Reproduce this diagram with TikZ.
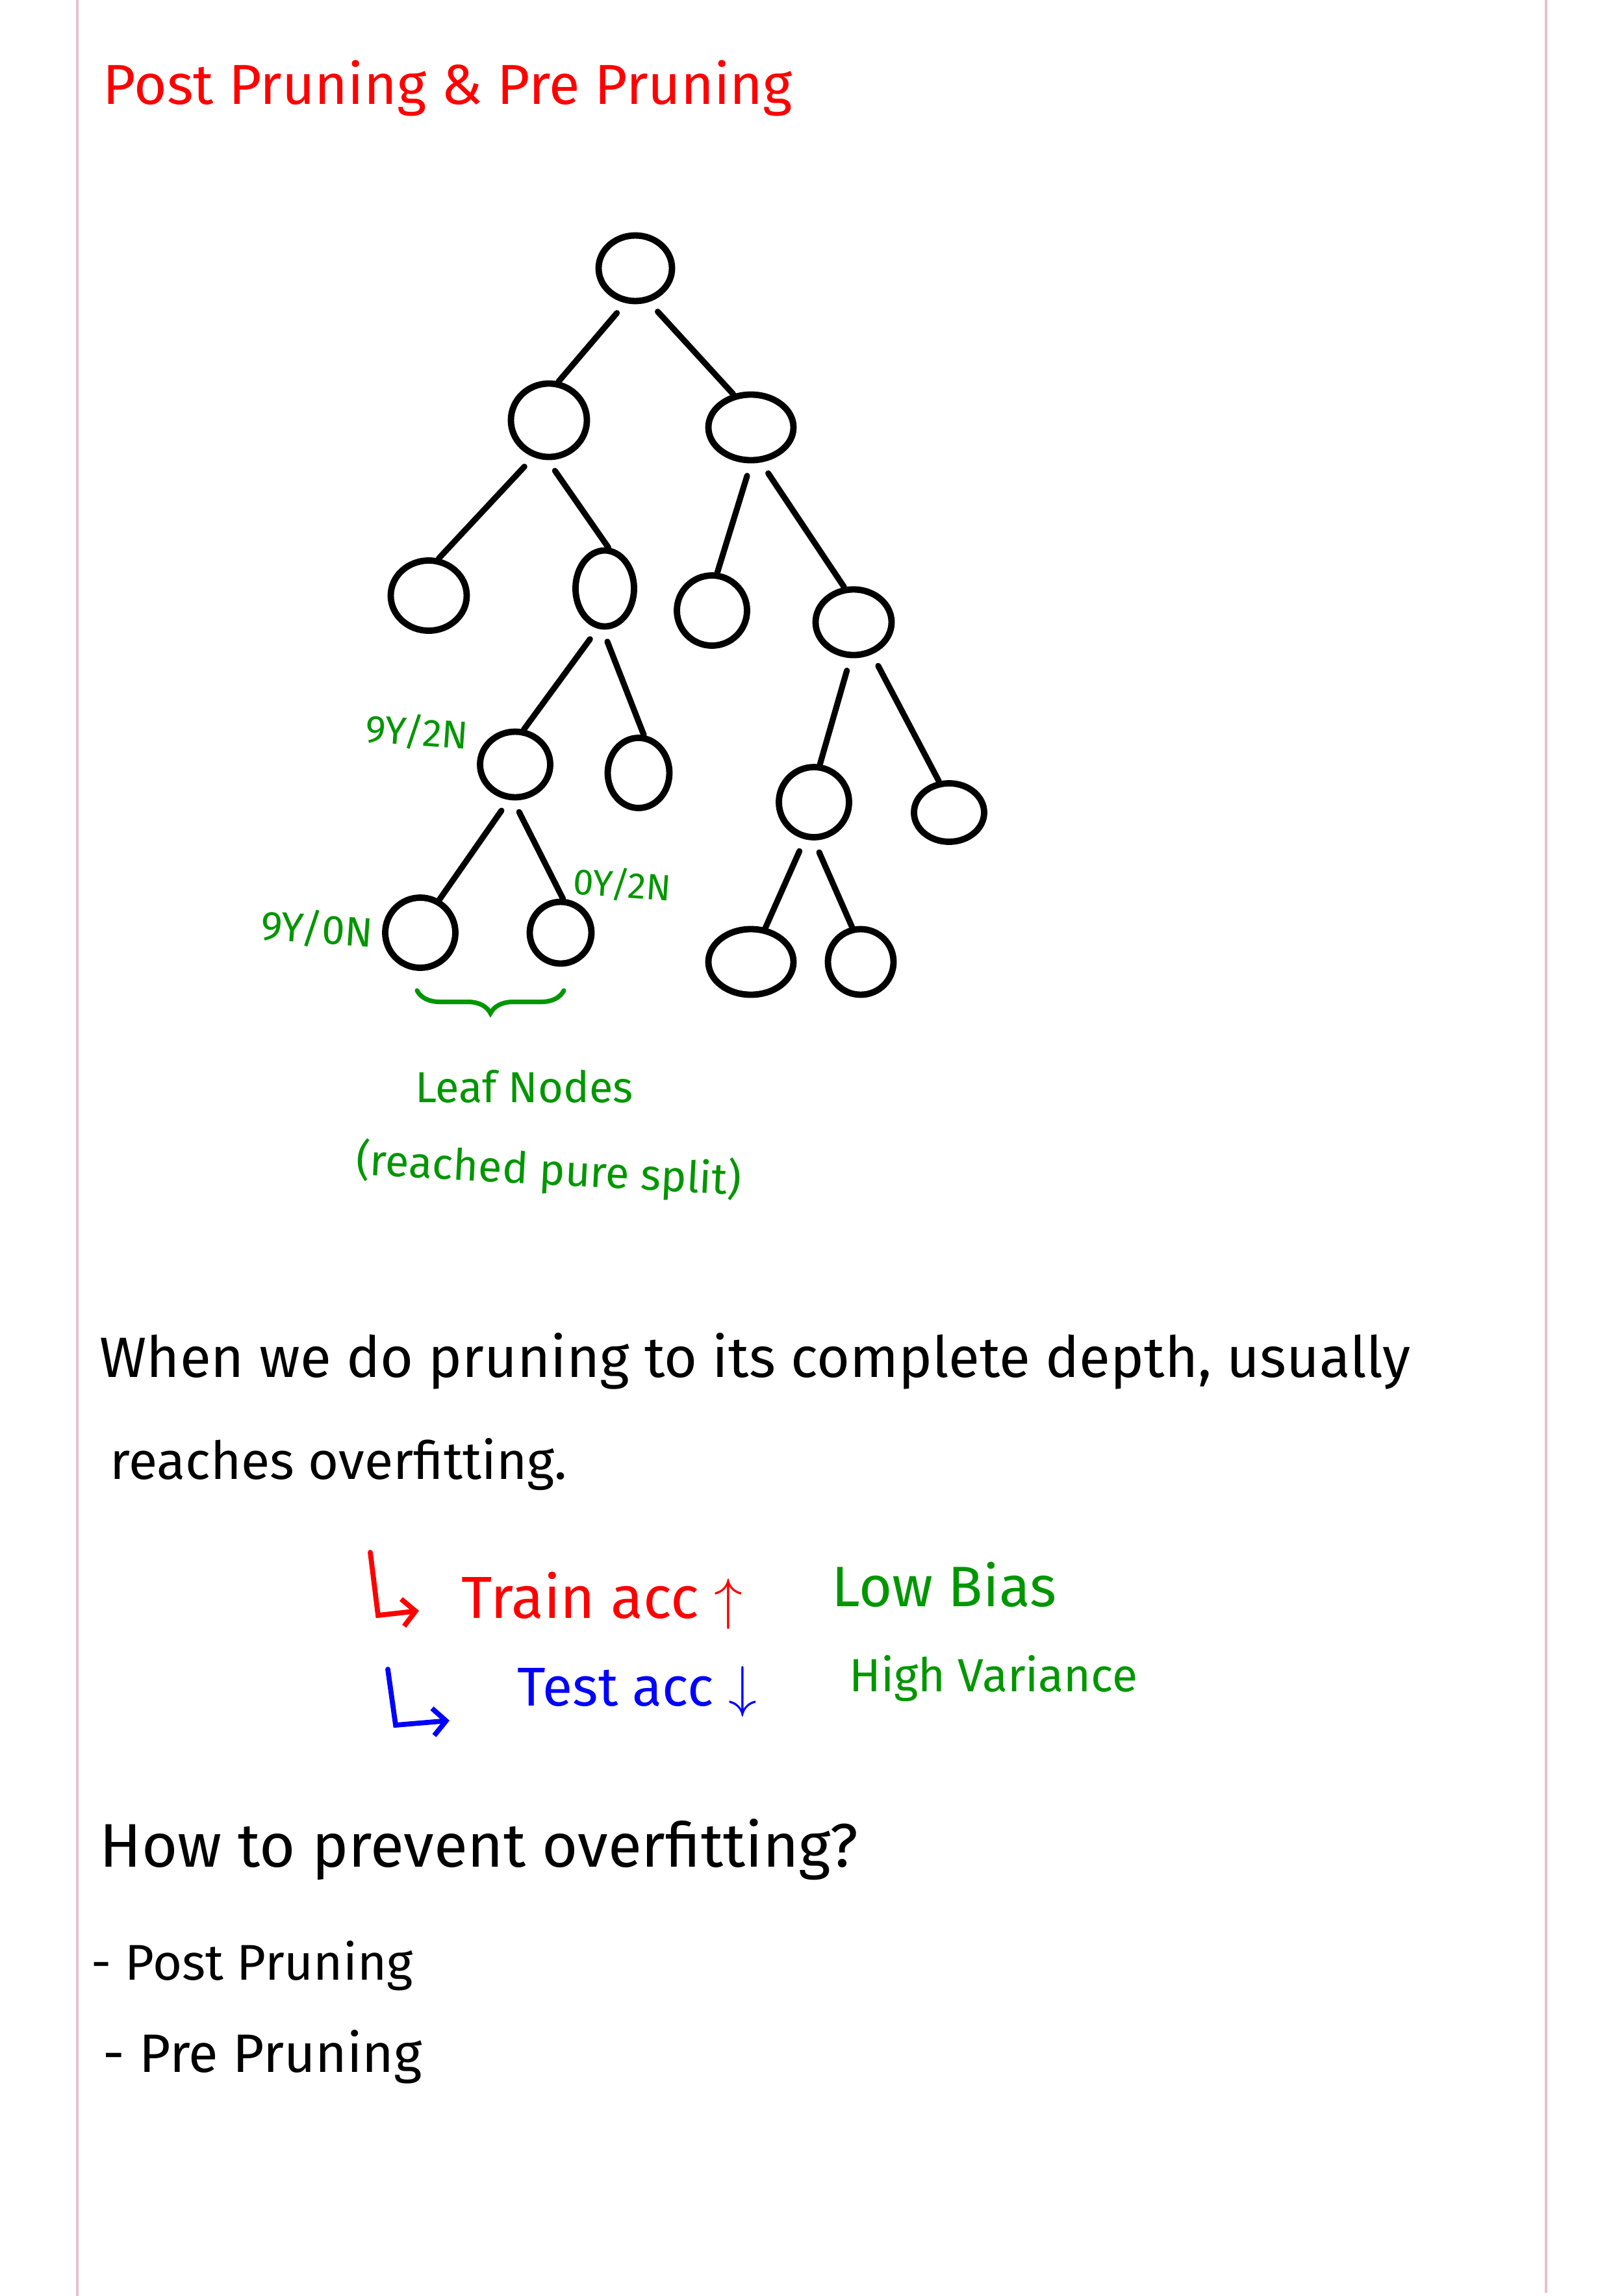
\documentclass[tikz,border=0pt]{standalone}
\usepackage{fontspec}
\setmainfont{Fira Sans}
\usetikzlibrary{shapes.geometric, arrows.meta, decorations.pathreplacing}

\definecolor{inkred}{RGB}{255,0,0}
\definecolor{inkgreen}{RGB}{0,150,0}
\definecolor{inkblue}{RGB}{0,0,255}
\definecolor{marginpink}{RGB}{232,190,208}

\begin{document}
\begin{tikzpicture}[
  tnode/.style={draw, ellipse, line width=2.8pt, inner sep=0pt},
  edge/.style={line width=2.6pt, line cap=round, shorten <=0.2cm},
  big/.style={font=\fontsize{23}{28}\selectfont, anchor=base west, inner sep=0pt},
  lbl/.style={font=\fontsize{16}{19}\selectfont, text=inkgreen, inner sep=0pt},
  hook/.style={line width=2.2pt, line cap=round, -{Straight Barb[length=0.2cm, width=0.42cm]}},
]
\useasboundingbox (0,0) rectangle (25,-35.35);
\fill[white] (0,0) rectangle (25,-35.35);
% page margins
\draw[marginpink, line width=1.2pt] (1.19,0) -- (1.19,-35.35);
\draw[marginpink, line width=1.2pt] (23.80,0) -- (23.80,-35.30);

% title
\node[big, text=inkred, font=\fontsize{24.7}{30}\selectfont] (title) at (1.58,-1.60) {Post Pruning \& Pre Pruning};

% tree
\node[tnode, minimum width=1.13cm, minimum height=1.01cm] (root) at (9.78,-4.13) {};
\node[tnode, minimum width=1.17cm, minimum height=1.13cm] (n1) at (8.45,-6.47) {};
\node[tnode, minimum width=1.31cm, minimum height=1.01cm] (n2) at (11.56,-6.58) {};
\node[tnode, minimum width=1.17cm, minimum height=1.08cm] (n1a) at (6.60,-9.17) {};
\node[tnode, minimum width=0.90cm, minimum height=1.17cm] (n1b) at (9.31,-9.06) {};
\node[tnode, minimum width=1.08cm, minimum height=1.08cm] (n2a) at (10.96,-9.40) {};
\node[tnode, minimum width=1.17cm, minimum height=1.01cm] (n2b) at (13.14,-9.58) {};
\node[tnode, minimum width=1.08cm, minimum height=1.01cm] (n1ba) at (7.93,-11.77) {};
\node[tnode, minimum width=0.95cm, minimum height=1.08cm] (n1bb) at (9.83,-11.90) {};
\node[tnode, minimum width=1.08cm, minimum height=1.08cm] (n2ba) at (12.53,-12.35) {};
\node[tnode, minimum width=1.08cm, minimum height=0.90cm] (n2bb) at (14.61,-12.51) {};
\node[tnode, minimum width=1.08cm, minimum height=1.08cm] (leafl) at (6.47,-14.36) {};
\node[tnode, minimum width=0.95cm, minimum height=0.95cm] (leafr) at (8.63,-14.36) {};
\node[tnode, minimum width=1.31cm, minimum height=1.01cm] (n2baa) at (11.56,-14.81) {};
\node[tnode, minimum width=1.01cm, minimum height=1.01cm] (n2bab) at (13.25,-14.81) {};

\draw[edge] (root.254) -- (n1.76);
\draw[edge] (root.292) -- (n2.118);
\draw[edge] (n1.247) -- (n1a.75);
\draw[edge] (n1.268) -- (n1b.85);
\draw[edge] (n2.270) -- (n2a.82);
\draw[edge] (n2.286) -- (n2b.105);
\draw[edge] (n1b.260) -- (n1ba.76);
\draw[edge] (n1b.267) -- (n1bb.82);
\draw[edge] (n2b.265) -- (n2ba.81);
\draw[edge] (n2b.300) -- (n2bb.108);
\draw[edge] (n1ba.260) -- (leafl.60);
\draw[edge] (n1ba.267) -- (leafr.86);
\draw[edge] (n2ba.256) -- (n2baa.67);
\draw[edge] (n2ba.270) -- (n2bab.104);

% split counts
\node[lbl, rotate=-4, font=\fontsize{17}{20}\selectfont] (cnt1) at (6.42,-11.27) {9Y/2N};
\node[lbl, rotate=-4, font=\fontsize{18}{21}\selectfont] (cnt2) at (4.88,-14.30) {9Y/0N};
\node[lbl, rotate=-4] (cnt3) at (9.58,-13.62) {0Y/2N};

% leaf brace
\coordinate (bracel) at (6.42,-15.25);
\coordinate (bracer) at (8.68,-15.25);
\draw[inkgreen, line width=2pt, line cap=round, decorate, decoration={brace, mirror, amplitude=0.35cm}] (bracel) -- (bracer);
\node[lbl, font=\fontsize{19}{23}\selectfont] (leafnodes) at (8.07,-16.73) {Leaf Nodes};
\node[lbl, font=\fontsize{19}{23}\selectfont, rotate=-3] (pure) at (8.45,-18.03) {(reached pure split)};

% overfitting note
\node[big, font=\fontsize{24.9}{30}\selectfont] (when) at (1.53,-21.20) {When we do pruning to its complete depth, usually};
\node[big] (reaches) at (1.69,-22.77) {reaches overfitting.};

\coordinate (trainhooktop) at (5.70,-23.90);
\coordinate (trainhookcorner) at (5.82,-24.87);
\coordinate (trainhookend) at (6.45,-24.80);
\draw[hook, inkred] (trainhooktop) -- (trainhookcorner) -- (trainhookend);
\node[big, text=inkred, font=\fontsize{26}{31}\selectfont] (train) at (7.10,-24.91) {Train acc $\uparrow$};
\node[big, text=inkgreen, font=\fontsize{25}{30}\selectfont] (lowbias) at (12.80,-24.73) {Low Bias};

\coordinate (testhooktop) at (5.97,-25.70);
\coordinate (testhookcorner) at (6.09,-26.56);
\coordinate (testhookend) at (6.92,-26.49);
\draw[hook, inkblue] (testhooktop) -- (testhookcorner) -- (testhookend);
\node[big, text=inkblue, font=\fontsize{24}{29}\selectfont] (test) at (7.96,-26.26) {Test acc $\downarrow$};
\node[big, text=inkgreen, font=\fontsize{20.4}{25}\selectfont] (highvar) at (13.07,-26.04) {High Variance};

% prevention
\node[big, font=\fontsize{27}{32}\selectfont] (how) at (1.53,-28.74) {How to prevent overfitting?};
\node[big, font=\fontsize{22}{27}\selectfont] (post) at (1.40,-30.48) {- Post Pruning};
\node[big, font=\fontsize{23.7}{28}\selectfont] (pre) at (1.58,-31.90) {- Pre Pruning};
\end{tikzpicture}
\end{document}
